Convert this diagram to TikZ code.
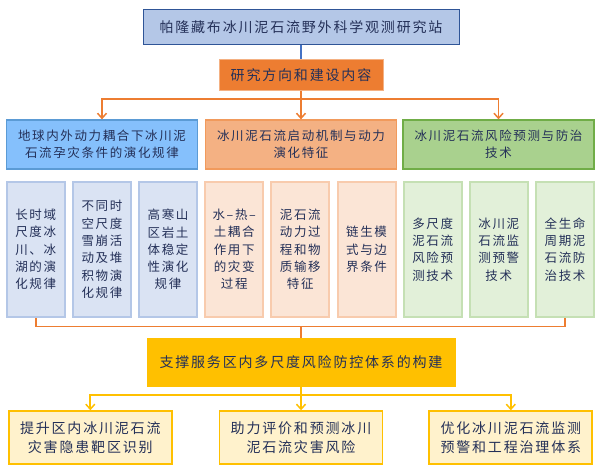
\documentclass[tikz,border=0pt]{standalone}
\usepackage{fontspec}
\setmainfont{Noto Sans CJK SC}
\newfontfamily\cjksp[LetterSpace=13]{Noto Sans CJK SC}
\usetikzlibrary{arrows.meta}
\definecolor{txt}{HTML}{243058}
\definecolor{topfill}{HTML}{B4C7E7}
\definecolor{topdraw}{HTML}{2F5597}
\definecolor{blueline}{HTML}{4472C4}
\definecolor{orng}{HTML}{ED7D31}
\definecolor{orngedge}{HTML}{F4B183}
\definecolor{lbfill}{HTML}{85C0FC}
\definecolor{lbdraw}{HTML}{5B9BD5}
\definecolor{lofill}{HTML}{F4B183}
\definecolor{lodraw}{HTML}{F19A5C}
\definecolor{lgfill}{HTML}{A9D18E}
\definecolor{lgdraw}{HTML}{70AD47}
\definecolor{pbfill}{HTML}{DAE3F3}
\definecolor{pbdraw}{HTML}{B4C7E7}
\definecolor{pofill}{HTML}{FBE5D6}
\definecolor{podraw}{HTML}{F8CBAD}
\definecolor{pgfill}{HTML}{E2F0D9}
\definecolor{pgdraw}{HTML}{C5E0B4}
\definecolor{ylw}{HTML}{FFC000}
\definecolor{ylwfill}{HTML}{FFF2CC}
\begin{document}
\begin{tikzpicture}[x=1pt,y=-1pt,
  base/.style={inner sep=0pt, align=center, text=txt},
  bigtxt/.style={font=\cjksp\fontsize{14}{19}\selectfont},
  midtxt/.style={font=\cjksp\fontsize{12.5}{17.3}\selectfont},
  smltxt/.style={font=\cjksp\fontsize{12.5}{17.3}\selectfont},
  topbox/.style={base, bigtxt, fill=topfill, draw=topdraw, line width=1pt, minimum width=316pt, minimum height=35pt},
  dirbox/.style={base, bigtxt, fill=orng, draw=orngedge, line width=1pt, minimum width=164pt, minimum height=31pt},
  lvtwo/.style={base, midtxt, line width=1.3pt, minimum width=191pt, minimum height=49pt},
  lvthree/.style={base, smltxt, line width=2pt, minimum width=58pt, minimum height=135pt},
  ybox/.style={base, bigtxt, fill=ylw, draw=ylw, minimum width=308pt, minimum height=48pt},
  outbox/.style={base, bigtxt, fill=ylwfill, draw=ylw, line width=1.8pt, minimum width=163pt, minimum height=53pt},
  oline/.style={draw=orng, line width=1.8pt},
  yline/.style={draw=ylw, line width=1.8pt},
  tip/.style={-{Straight Barb[length=5pt,width=9pt,line width=1.5pt]}}
]
\useasboundingbox (0,0) rectangle (600,469);

\node[topbox] (top) at (301,26.7) {帕隆藏布冰川泥石流野外科学观测研究站};
\node[dirbox] (dir) at (301,74.7) {研究方向和建设内容};

\node[lvtwo, fill=lbfill, draw=lbdraw] (ta) at (102,144.5) {地球内外动力耦合下冰川泥\\石流孕灾条件的演化规律};
\node[lvtwo, fill=lofill, draw=lodraw] (tb) at (301,144.5) {冰川泥石流启动机制与动力\\演化特征};
\node[lvtwo, fill=lgfill, draw=lgdraw] (tc) at (498.5,144.5) {冰川泥石流风险预测与防治\\技术};

\node[lvthree, fill=pbfill, draw=pbdraw] (sa) at (35.7,249.5) {长时域\\尺度冰\\川、冰\\湖的演\\化规律};
\node[lvthree, fill=pbfill, draw=pbdraw] (sb) at (101.9,249.5) {不同时\\空尺度\\雪崩活\\动及堆\\积物演\\化规律};
\node[lvthree, fill=pbfill, draw=pbdraw] (sc) at (168.0,249.5) {高寒山\\区岩土\\体稳定\\性演化\\规律};
\node[lvthree, fill=pofill, draw=podraw] (sd) at (234.2,249.5) {水–热–\\土耦合\\作用下\\的灾变\\过程};
\node[lvthree, fill=pofill, draw=podraw] (se) at (300.3,249.5) {泥石流\\动力过\\程和物\\质输移\\特征};
\node[lvthree, fill=pofill, draw=podraw] (sf) at (366.5,249.5) {链生模\\式与边\\界条件};
\node[lvthree, fill=pgfill, draw=pgdraw] (sg) at (432.7,249.5) {多尺度\\泥石流\\风险预\\测技术};
\node[lvthree, fill=pgfill, draw=pgdraw] (sh) at (498.8,249.5) {冰川泥\\石流监\\测预警\\技术};
\node[lvthree, fill=pgfill, draw=pgdraw] (si) at (565.0,249.5) {全生命\\周期泥\\石流防\\治技术};

\node[ybox] (sup) at (301,362.5) {支撑服务区内多尺度风险防控体系的构建};

\node[outbox] (oa) at (90.3,437.7) {提升区内冰川泥石流\\灾害隐患靶区识别};
\node[outbox] (ob) at (301,437.7) {助力评价和预测冰川\\泥石流灾害风险};
\node[outbox] (oc) at (510.8,437.7) {优化冰川泥石流监测\\预警和工程治理体系};

\coordinate (hubA) at (301,99);
\coordinate (hubB) at (301,326.5);
\coordinate (hubC) at (301,395);

\draw[draw=blueline, line width=1.5pt] (top.south) -- (dir.north);
\draw[oline, tip] (dir.south) -- (tb.north);
\draw[oline, tip] (hubA) -| (ta.north);
\draw[oline, tip] (hubA) -| (tc.north);

\draw[oline] (sa.south) |- (hubB) -| (si.south);
\draw[oline] (hubB) -- (sup.north);

\draw[yline, tip] (sup.south) -- (ob.north);
\draw[yline, tip] (hubC) -| (oa.north);
\draw[yline, tip] (hubC) -| (oc.north);
\end{tikzpicture}
\end{document}
